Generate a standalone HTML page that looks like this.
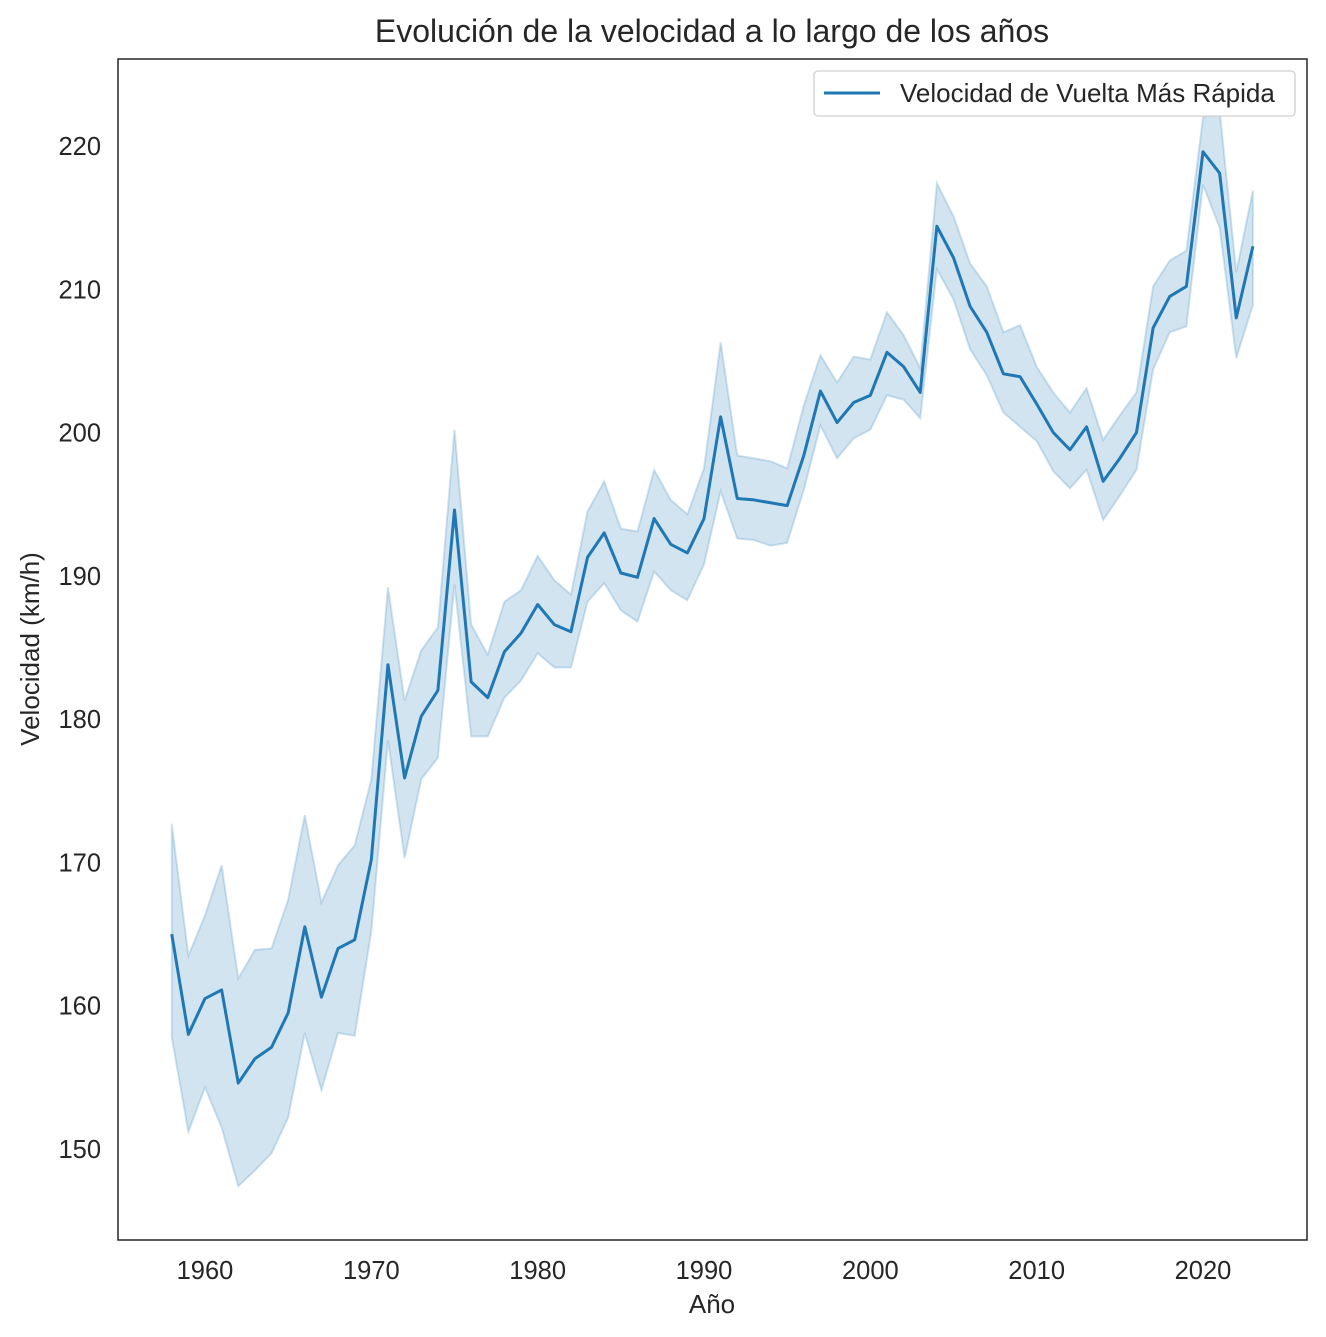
<!DOCTYPE html>
<html><head><meta charset="utf-8">
<style>
html,body{margin:0;padding:0;background:#fff;}
svg{display:block;font-family:"Liberation Sans","DejaVu Sans",sans-serif;}
</style></head>
<body>
<svg id="chart" width="1326" height="1337" viewBox="0 0 1326 1337">
<text x="712" y="42" text-anchor="middle" font-size="32" fill="#262626">Evolución de la velocidad a lo largo de los años</text>
<g id="band-layer"></g>
<g id="line-layer"></g>
<rect x="118" y="59" width="1189" height="1181" fill="none" stroke="#262626" stroke-width="1.5"/>
<g id="xticks"></g>
<g id="yticks"></g>
<text x="712" y="1313" text-anchor="middle" font-size="26" fill="#262626">Año</text>
<text transform="translate(39,649) rotate(-90)" text-anchor="middle" font-size="26" fill="#262626">Velocidad (km/h)</text>
<g>
<rect x="814" y="71" width="481" height="45" rx="4" fill="#fff" stroke="#d0d0d0" stroke-width="1.3"/>
<line x1="824" y1="93" x2="880" y2="93" stroke="#1f77b4" stroke-width="3"/>
<text x="900" y="102" font-size="26" fill="#262626">Velocidad de Vuelta Más Rápida</text>
</g>
</svg>
<script>
const years = [];
for (let y = 1958; y <= 2023; y++) years.push(y);
const speed = [165.0,158.0,160.5,161.1,154.6,156.3,157.1,159.5,165.5,160.6,164.0,164.6,170.2,183.8,175.9,180.2,182.0,194.6,182.6,181.5,184.7,186.0,188.0,186.6,186.1,191.3,193.0,190.2,189.9,194.0,192.2,191.6,194.0,201.1,195.4,195.3,195.1,194.9,198.4,202.9,200.7,202.1,202.6,205.6,204.6,202.8,214.4,212.2,208.8,207.0,204.1,203.9,202.0,200.0,198.8,200.4,196.6,198.2,200.0,207.3,209.5,210.2,219.6,218.1,208.0,213.0];
const upper = [172.7,163.5,166.3,169.8,161.9,163.9,164.0,167.4,173.3,167.2,169.8,171.2,175.8,189.2,181.3,184.8,186.4,200.2,186.6,184.5,188.2,189.0,191.4,189.7,188.7,194.5,196.6,193.3,193.1,197.4,195.3,194.3,197.5,206.3,198.4,198.2,198.0,197.5,201.9,205.4,203.5,205.3,205.1,208.4,206.8,204.5,217.4,215.1,211.8,210.2,207.0,207.5,204.6,202.8,201.4,203.1,199.5,201.2,202.8,210.2,212.0,212.7,222.0,222.5,211.2,216.9];
const lower = [157.8,151.2,154.3,151.5,147.4,148.5,149.7,152.2,158.1,154.1,158.1,157.9,165.2,178.5,170.3,175.8,177.3,189.4,178.8,178.8,181.5,182.7,184.6,183.6,183.6,188.2,189.5,187.6,186.8,190.3,189.0,188.3,190.8,195.9,192.6,192.5,192.1,192.3,196.0,200.5,198.2,199.6,200.2,202.6,202.3,201.0,211.4,209.3,205.8,204.0,201.4,200.4,199.4,197.3,196.1,197.4,193.9,195.6,197.4,204.4,207.0,207.4,217.3,214.3,205.2,208.9];
const xTicks = [1960,1970,1980,1990,2000,2010,2020];
const yTicks = [150,160,170,180,190,200,210,220];

const NS = "http://www.w3.org/2000/svg";
function xs(v){ return 205 + (v - 1960) * (998/60); }
function ys(v){ return 146 + (220 - v) * (1003/70); }

const band = document.getElementById('band-layer');
let d = years.map((yr,i)=>(i?'L':'M')+xs(yr)+','+ys(upper[i])).join('');
for (let i = years.length-1; i >= 0; i--) d += 'L'+xs(years[i])+','+ys(lower[i]);
d += 'Z';
const bp = document.createElementNS(NS,'path');
bp.setAttribute('d', d);
bp.setAttribute('fill', '#1f77b4');
bp.setAttribute('fill-opacity', '0.2');
bp.setAttribute('stroke', '#1f77b4');
bp.setAttribute('stroke-opacity', '0.2');
bp.setAttribute('stroke-width', '2');


band.appendChild(bp);

const lp = document.createElementNS(NS,'path');
lp.setAttribute('d', years.map((yr,i)=>(i?'L':'M')+xs(yr)+','+ys(speed[i])).join(''));
lp.setAttribute('fill', 'none');
lp.setAttribute('stroke', '#1f77b4');
lp.setAttribute('stroke-width', '3');
lp.setAttribute('stroke-linejoin', 'round');


document.getElementById('line-layer').appendChild(lp);

const xg = document.getElementById('xticks');
xTicks.forEach(t=>{
  const tx = document.createElementNS(NS,'text');
  tx.setAttribute('x', xs(t));
  tx.setAttribute('y', 1279);
  tx.setAttribute('text-anchor', 'middle');
  tx.setAttribute('font-size', '25.5');
  tx.setAttribute('fill', '#262626');
  tx.textContent = t;
  
  
  xg.appendChild(tx);
});
const yg = document.getElementById('yticks');
yTicks.forEach(t=>{
  const tx = document.createElementNS(NS,'text');
  tx.setAttribute('x', 101);
  tx.setAttribute('y', ys(t)+9);
  tx.setAttribute('text-anchor', 'end');
  tx.setAttribute('font-size', '25.5');
  tx.setAttribute('fill', '#262626');
  tx.textContent = t;
  
  
  yg.appendChild(tx);
});
</script>
</body></html>
